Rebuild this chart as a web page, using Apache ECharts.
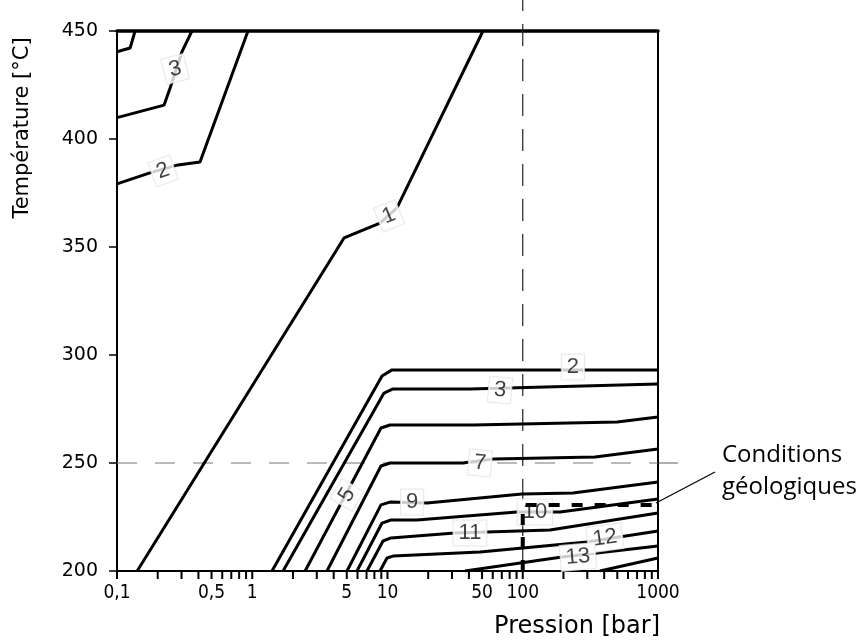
<!DOCTYPE html>
<html>
<head>
<meta charset="utf-8">
<script src="https://cdn.jsdelivr.net/npm/echarts@6/dist/echarts.min.js"></script>
<style>
  html, body { margin: 0; padding: 0; background: #fff; }
  #chart { width: 866px; height: 643px; }
</style>
</head>
<body>
<div id="chart"></div>
<script>
  // pressure axis (log), bar
  const pressureTicks = [0.1, 0.2, 0.3, 0.4, 0.5, 0.6, 0.7, 0.8, 0.9,
    1, 2, 3, 4, 5, 6, 7, 8, 9,
    10, 20, 30, 40, 50, 60, 70, 80, 90,
    100, 200, 300, 400, 500, 600, 700, 800, 900, 1000];
  const pressureLabels = [0.1, 0.5, 1, 5, 10, 50, 100, 1000];

  // isolines [pression, température]
  const iso1 = [[0.141, 200], [4.77, 354.2], [8.8, 361.1], [11.75, 368.1], [50.8, 450]];
  const iso2Top = [[0.1, 379.2], [0.175, 384.3], [0.283, 388], [0.411, 389.4], [0.93, 450]];
  const iso3Top = [[0.1, 409.9], [0.223, 415.7], [0.247, 423.6], [0.302, 440.3], [0.358, 450]];
  const iso4Top = [[0.1, 440.4], [0.125, 442.1], [0.136, 450]];
  const iso2 = [[1.4, 200], [9.11, 290.3], [10.8, 293.1], [1000, 293.1]];
  const iso3 = [[1.69, 200], [9.42, 282.4], [10.98, 284.3], [40.7, 284.3], [1000, 286.6]];
  const iso5 = [[2.46, 200], [8.95, 266.2], [10.43, 267.6], [42.9, 267.6], [498, 269.0], [1000, 271.3]];
  const iso7 = [[3.57, 200], [8.95, 248.6], [10.43, 250], [36.1, 250], [60.3, 251.9], [342, 252.8], [1000, 256.5]];
  const iso9 = [[5.02, 200], [8.95, 230.6], [10.43, 231.9], [19.6, 231.5], [98.7, 235.6], [235, 236.1], [1000, 241.2]];
  const iso10 = [[5.95, 200], [9.11, 222.2], [10.6, 223.6], [16.5, 223.6], [90.7, 227.3], [188.6, 227.3], [1000, 233.3]];
  const iso11 = [[7.05, 200], [9.26, 213.9], [10.6, 215.3], [31.5, 217.6], [54.4, 218.1], [159, 219.0], [1000, 226.9]];
  const iso12 = [[8.8, 200], [9.92, 206.0], [10.98, 206.9], [48.3, 208.8], [298.5, 213.4], [1000, 218.5]];
  const iso13 = [[37.4, 200], [195, 206.5], [1000, 211.6]];
  const iso14 = [[372, 200], [1000, 206.0]];

  // contour labels
  const labelText = ['1', '2', '3', '2', '3', '5', '7', '9', '10', '11', '12', '13'];
  const labelP = [10.26, 0.219, 0.269, 235, 67.9, 5.02, 48.3, 15.2, 123, 40.7, 405, 256];
  const labelT = [364.4, 385.2, 432.4, 294.4, 283.8, 235.2, 250, 231.9, 227.3, 217.6, 215.3, 206.5];
  const labelAngle = [22, 20, 14, 0, -5, 60, -5, 0, 0, 0, 8, 5];

  // reference lines + conditions géologiques
  const refH = [[0.1, 250], [1000, 250]];
  const refV = [[100, 200], [100, 464.4]];
  const geoBox = [[100, 200], [100, 230.6], [1000, 230.6]];
  const leaderFrom = [1000, 231.5];

  const chart = echarts.init(document.getElementById('chart'));

  const isoLines = [iso1, iso2Top, iso3Top, iso4Top, iso2, iso3, iso5, iso7, iso9, iso10, iso11, iso12, iso13, iso14];

  const series = isoLines.map((d) => ({
    type: 'line',
    data: d,
    showSymbol: false,
    z: 3,
    lineStyle: { color: '#000', width: 3 },
  }));

  series.push({
    type: 'line',
    data: refH,
    showSymbol: false,
    z: 2,
    lineStyle: { color: '#777', width: 1.2, type: [20, 18] },
  });
  series.push({
    type: 'line',
    data: refV,
    showSymbol: false,
    clip: false,
    z: 2,
    lineStyle: { color: '#222', width: 1.2, type: [22, 13] },
  });
  series.push({
    type: 'scatter',
    symbolSize: 1,
    z: 5,
    itemStyle: { color: 'rgba(0,0,0,0)' },
    data: labelText.map((t, i) => ({
      value: [labelP[i], labelT[i]],
      label: { formatter: t, rotate: labelAngle[i] },
    })),
    label: {
      show: true,
      position: 'inside',
      color: '#111',
      fontFamily: 'Liberation Sans, Arial, sans-serif',
      fontSize: 22,
      backgroundColor: '#fff',
      borderColor: '#e4e4e4',
      borderWidth: 1,
      padding: [2, 5, 1, 5],
    },
  });
  series.push({
    type: 'line',
    data: geoBox,
    showSymbol: false,
    z: 6,
    lineStyle: { color: '#000', width: 4, type: [11, 12] },
  });
  // log ticks under the pressure axis
  series.push({
    type: 'custom',
    clip: false,
    silent: true,
    z: 1,
    data: pressureTicks.map((p) => [p, 200]),
    encode: { x: 0, y: 1 },
    renderItem: (params, api) => {
      const pt = api.coord([api.value(0), api.value(1)]);
      return {
        type: 'line',
        shape: { x1: pt[0], y1: pt[1], x2: pt[0], y2: pt[1] + 8 },
        style: { stroke: '#000', lineWidth: 2 },
      };
    },
  });

  const option = {
    animation: false,
    backgroundColor: '#fff',
    grid: {
      left: 117,
      right: 208,
      top: 31,
      bottom: 72,
    },
    xAxis: [
      {
        type: 'log',
        logBase: 10,
        min: 0.1,
        max: 1000,
        axisLine: { onZero: false, lineStyle: { color: '#000', width: 2 } },
        axisTick: { show: false },
        minorTick: { show: false },
        splitLine: { show: false },
        axisLabel: {
          interval: 0,
          customValues: pressureLabels,
          color: '#000',
          fontFamily: 'Liberation Sans Narrow, DejaVu Sans Condensed, sans-serif',
          fontSize: 19,
          margin: 13,
          formatter: (v) => String(v).replace('.', ','),
        },
      },
      {
        type: 'log',
        logBase: 10,
        min: 0.1,
        max: 1000,
        position: 'top',
        axisLine: { onZero: false, lineStyle: { color: '#000', width: 3.5 } },
        axisTick: { show: false },
        axisLabel: { show: false },
        splitLine: { show: false },
      },
    ],
    yAxis: [
      {
        type: 'value',
        min: 200,
        max: 450,
        interval: 50,
        axisLine: { show: true, onZero: false, lineStyle: { color: '#000', width: 2 } },
        axisTick: { show: true, length: 8, lineStyle: { color: '#000', width: 1.5 } },
        splitLine: { show: false },
        axisLabel: {
          color: '#000',
          fontFamily: 'DejaVu Sans, sans-serif',
          fontSize: 19,
          margin: 19,
        },
      },
      {
        type: 'value',
        min: 200,
        max: 450,
        interval: 50,
        position: 'right',
        axisLine: { show: true, onZero: false, lineStyle: { color: '#000', width: 2 } },
        axisTick: { show: false },
        axisLabel: { show: false },
        splitLine: { show: false },
      },
    ],
    series: series,
  };

  chart.setOption(option);

  // annotations outside the plot area, anchored on the axis scale
  const hEnd = chart.convertToPixel({ xAxisIndex: 0, yAxisIndex: 0 }, [1000, 250]);
  const lFrom = chart.convertToPixel({ xAxisIndex: 0, yAxisIndex: 0 }, leaderFrom);

  chart.setOption({
    graphic: [
      {
        type: 'line',
        shape: { x1: hEnd[0], y1: hEnd[1], x2: hEnd[0] + 20, y2: hEnd[1] },
        style: { stroke: '#777', lineWidth: 1.2 },
      },
      {
        type: 'line',
        shape: { x1: lFrom[0] - 2, y1: lFrom[1], x2: 715, y2: 472 },
        style: { stroke: '#000', lineWidth: 1.2 },
      },
      {
        type: 'text',
        x: 23,
        y: 128,
        rotation: Math.PI / 2,
        style: {
          text: 'Température [°C]',
          align: 'center',
          verticalAlign: 'middle',
          fill: '#000',
          font: '21px "DejaVu Sans", sans-serif',
        },
      },
      {
        type: 'text',
        x: 660,
        y: 627,
        style: {
          text: 'Pression [bar]',
          align: 'right',
          verticalAlign: 'middle',
          fill: '#000',
          font: '24px "DejaVu Sans", sans-serif',
        },
      },
      {
        type: 'text',
        x: 722,
        y: 455,
        style: {
          text: 'Conditions',
          align: 'left',
          verticalAlign: 'middle',
          fill: '#000',
          font: '24px "Open Sans", sans-serif',
        },
      },
      {
        type: 'text',
        x: 722,
        y: 487,
        style: {
          text: 'géologiques',
          align: 'left',
          verticalAlign: 'middle',
          fill: '#000',
          font: '24px "Open Sans", sans-serif',
        },
      },
    ],
  });
</script>
</body>
</html>
